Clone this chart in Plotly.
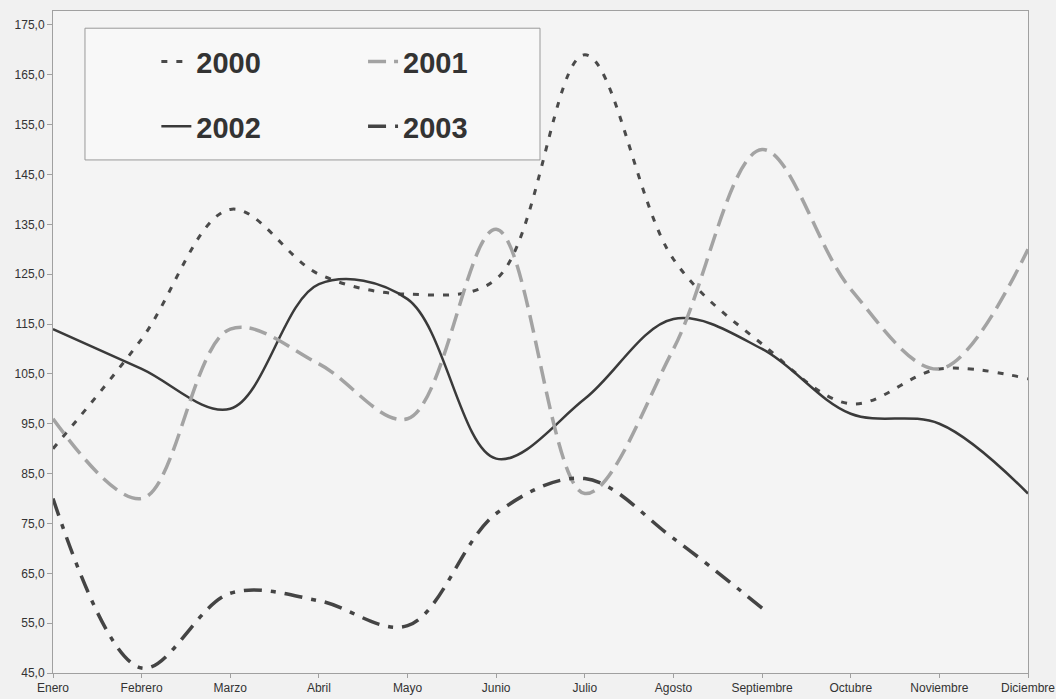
import plotly.graph_objects as go

months = ["Enero", "Febrero", "Marzo", "Abril", "Mayo", "Junio", "Julio",
          "Agosto", "Septiembre", "Octubre", "Noviembre", "Diciembre"]
y2000 = [90, 112, 138, 125, 121, 124, 169, 128, 111, 99, 106, 104]
y2001 = [96, 80, 114, 107, 96, 134, 81, 110, 150, 122, 106, 130]
y2002 = [114, 106, 98, 123, 120, 88, 100, 116, 110, 97, 95, 81]
y2003 = [80, 46, 61, 59.5, 54.5, 77, 84, 72, 58]

fig = go.Figure()
fig.add_trace(go.Scatter(x=months, y=y2000, name="2000", mode="lines", legend="legend",
                         legendgroup="a",
                         line=dict(color="#4a4a4a", width=3, dash="6px,9px", shape="spline")))
fig.add_trace(go.Scatter(x=months, y=y2002, name="2002", mode="lines", legend="legend",
                         legendgroup="b",
                         line=dict(color="#3a3a3a", width=2.5, shape="spline")))
fig.add_trace(go.Scatter(x=months, y=y2001, name="2001", mode="lines", legend="legend2",
                         legendgroup="c",
                         line=dict(color="#a3a3a3", width=3.5, dash="18px,8px", shape="spline")))
fig.add_trace(go.Scatter(x=months[:len(y2003)], y=y2003, name="2003", mode="lines", legend="legend2",
                         legendgroup="d",
                         line=dict(color="#444444", width=3.5, dash="18px,9px,5px,9px", shape="spline")))

legend_font = dict(family="Liberation Sans, Arial", size=29, color="#333333", weight="bold")
fig.update_layout(
    width=1056, height=699,
    margin=dict(l=53, r=28, t=11, b=26, autoexpand=False),
    paper_bgcolor="#f1f1f1",
    plot_bgcolor="#f4f4f4",
    separators=",.",
    font=dict(family="Liberation Sans, Arial", size=12, color="#333333"),
    legend=dict(x=0.106, y=0.962, xanchor="left", yanchor="top", bgcolor="rgba(0,0,0,0)",
                font=legend_font, tracegroupgap=24, traceorder="grouped"),
    legend2=dict(x=0.318, y=0.962, xanchor="left", yanchor="top", bgcolor="rgba(0,0,0,0)",
                 font=legend_font, tracegroupgap=24, traceorder="grouped"),
    shapes=[dict(type="rect", xref="paper", yref="paper", x0=0.0328, x1=0.4995,
                 y0=0.775, y1=0.974, line=dict(color="#9a9a9a", width=1),
                 fillcolor="#f8f8f8", layer="below")],
)
fig.update_xaxes(type="category", range=[0, 11], showgrid=False, showline=True,
                 linecolor="#a0a0a0", linewidth=1, mirror=True, ticks="outside",
                 ticklen=4, tickcolor="#a0a0a0", zeroline=False, automargin=False,
                 tickfont=dict(size=12, color="#333333"))
fig.update_yaxes(range=[45, 177.8], tickvals=[45, 55, 65, 75, 85, 95, 105, 115, 125, 135, 145, 155, 165, 175],
                 tickformat=".1f", showgrid=False, showline=True, linecolor="#a0a0a0",
                 linewidth=1, mirror=True, ticks="outside", ticklen=5, tickcolor="#a0a0a0",
                 zeroline=False, automargin=False, tickfont=dict(size=12, color="#333333"))

fig.write_html("out.html", config={"displayModeBar": False},
               post_script="document.body.style.margin='0';document.body.style.overflow='hidden';")
